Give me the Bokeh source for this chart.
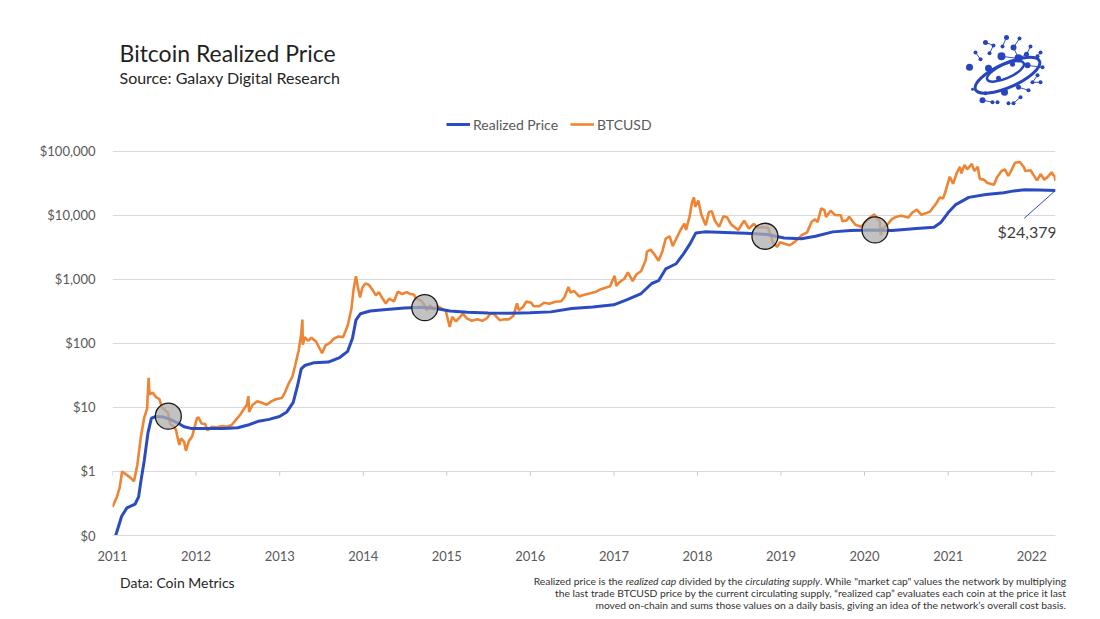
import html
import datetime as dt
import pandas as pd
from bokeh.plotting import figure
from bokeh.models import (Range1d, FixedTicker, NumeralTickFormatter, DatetimeTickFormatter,
                          Legend, LegendItem, Label, LinearScale, Div)
from bokeh.layouts import column
from bokeh.embed import file_html
from bokeh.resources import INLINE

# ---------------- data ----------------
btc_dates = [
    "2011-01-01", "2011-01-20", "2011-02-01", "2011-02-12", "2011-03-01", "2011-03-20", "2011-04-05",
    "2011-04-20", "2011-05-05", "2011-05-20", "2011-06-01", "2011-06-08", "2011-06-12", "2011-06-25",
    "2011-07-10", "2011-07-25", "2011-08-05", "2011-08-20", "2011-09-01", "2011-09-10", "2011-09-25",
    "2011-10-05", "2011-10-20", "2011-10-28", "2011-11-10", "2011-11-18", "2011-12-01", "2011-12-15",
    "2012-01-05", "2012-01-12", "2012-01-25", "2012-02-10", "2012-02-20", "2012-03-10", "2012-04-01",
    "2012-04-25", "2012-05-15", "2012-06-05", "2012-06-25", "2012-07-10", "2012-07-25", "2012-08-10",
    "2012-08-17", "2012-08-20", "2012-09-05", "2012-09-25", "2012-10-15", "2012-11-05", "2012-11-25",
    "2012-12-15", "2013-01-10", "2013-01-25", "2013-02-10", "2013-02-25", "2013-03-10", "2013-03-25",
    "2013-04-05", "2013-04-10", "2013-04-12", "2013-04-20", "2013-05-05", "2013-05-20", "2013-06-10",
    "2013-07-05", "2013-07-20", "2013-08-10", "2013-08-25", "2013-09-15", "2013-10-05", "2013-10-25",
    "2013-11-10", "2013-11-20", "2013-11-30", "2013-12-07", "2013-12-18", "2013-12-28", "2014-01-10",
    "2014-01-25", "2014-02-10", "2014-02-25", "2014-03-10", "2014-03-25", "2014-04-10", "2014-04-25",
    "2014-05-15", "2014-06-01", "2014-06-20", "2014-07-10", "2014-07-25", "2014-08-10", "2014-08-20",
    "2014-09-10", "2014-09-25", "2014-10-05", "2014-10-20", "2014-11-05", "2014-11-20", "2014-12-10",
    "2014-12-28", "2015-01-14", "2015-01-25", "2015-02-10", "2015-02-25", "2015-03-12", "2015-03-30",
    "2015-04-20", "2015-05-15", "2015-06-05", "2015-06-25", "2015-07-10", "2015-07-25", "2015-08-20",
    "2015-09-10", "2015-09-30", "2015-10-20", "2015-11-04", "2015-11-12", "2015-11-30", "2015-12-15",
    "2016-01-05", "2016-01-16", "2016-02-10", "2016-03-01", "2016-03-25", "2016-04-20", "2016-05-15",
    "2016-05-30", "2016-06-16", "2016-06-25", "2016-07-10", "2016-08-02", "2016-08-25", "2016-09-20",
    "2016-10-15", "2016-11-05", "2016-11-25", "2016-12-15", "2016-12-25", "2017-01-04", "2017-01-11",
    "2017-01-25", "2017-02-15", "2017-03-03", "2017-03-24", "2017-04-10", "2017-04-30", "2017-05-20",
    "2017-05-25", "2017-06-10", "2017-06-25", "2017-07-15", "2017-08-01", "2017-08-15", "2017-09-01",
    "2017-09-15", "2017-09-30", "2017-10-20", "2017-11-05", "2017-11-12", "2017-11-28", "2017-12-08",
    "2017-12-17", "2017-12-22", "2018-01-05", "2018-01-17", "2018-02-06", "2018-02-20", "2018-03-05",
    "2018-03-18", "2018-04-06", "2018-04-24", "2018-05-10", "2018-05-28", "2018-06-28", "2018-07-24",
    "2018-08-14", "2018-09-04", "2018-09-20", "2018-10-15", "2018-11-05", "2018-11-20", "2018-11-25",
    "2018-12-15", "2018-12-28", "2019-01-20", "2019-02-08", "2019-03-01", "2019-04-02", "2019-04-25",
    "2019-05-15", "2019-05-30", "2019-06-10", "2019-06-26", "2019-07-10", "2019-07-17", "2019-08-06",
    "2019-08-25", "2019-09-20", "2019-09-26", "2019-10-15", "2019-10-26", "2019-11-22", "2019-12-17",
    "2020-01-08", "2020-01-28", "2020-02-12", "2020-02-28", "2020-03-08", "2020-03-12", "2020-03-20",
    "2020-04-05", "2020-04-30", "2020-05-20", "2020-06-10", "2020-07-10", "2020-07-28", "2020-08-17",
    "2020-09-05", "2020-09-25", "2020-10-15", "2020-10-25", "2020-11-10", "2020-11-25", "2020-12-10",
    "2020-12-20", "2021-01-08", "2021-01-22", "2021-02-08", "2021-02-21", "2021-02-28", "2021-03-13",
    "2021-03-25", "2021-04-14", "2021-04-25", "2021-05-10", "2021-05-19", "2021-06-05", "2021-06-22",
    "2021-07-20", "2021-08-02", "2021-08-22", "2021-09-06", "2021-09-21", "2021-10-05", "2021-10-20",
    "2021-11-10", "2021-11-28", "2021-12-04", "2021-12-27", "2022-01-10", "2022-01-24", "2022-02-10",
    "2022-02-24", "2022-03-10", "2022-03-30", "2022-04-06", "2022-04-10", "2022-04-15",
]
btc_values = [
    0.28, 0.40, 0.55, 1.00, 0.90, 0.80, 0.70,
    1.3, 3.5, 7.0, 9.5, 29.0, 16.0, 17.0,
    14.5, 13.5, 10.0, 9.0, 8.2, 5.5, 5.0,
    4.5, 2.6, 3.3, 2.9, 2.1, 3.0, 3.5,
    6.8, 7.0, 5.6, 5.5, 4.4, 5.0, 4.9,
    5.1, 5.0, 5.3, 6.5, 7.5, 9.0, 11.0,
    15.0, 8.5, 11.0, 12.5, 11.8, 11.0, 12.4,
    13.4, 14.0, 17.5, 24.0, 30.0, 46.0, 78.0,
    140.0, 235.0, 95.0, 125.0, 110.0, 122.0, 105.0,
    70.0, 93.0, 103.0, 118.0, 128.0, 125.0, 190.0,
    340.0, 700.0, 1120.0, 800.0, 520.0, 740.0, 860.0,
    820.0, 690.0, 560.0, 630.0, 510.0, 420.0, 500.0,
    450.0, 640.0, 590.0, 630.0, 590.0, 580.0, 500.0,
    470.0, 400.0, 330.0, 390.0, 340.0, 380.0, 350.0,
    320.0, 180.0, 260.0, 220.0, 250.0, 290.0, 245.0,
    225.0, 238.0, 225.0, 245.0, 290.0, 290.0, 230.0,
    238.0, 237.0, 270.0, 420.0, 330.0, 370.0, 450.0,
    430.0, 380.0, 380.0, 430.0, 415.0, 445.0, 455.0,
    530.0, 760.0, 620.0, 660.0, 540.0, 575.0, 605.0,
    640.0, 700.0, 740.0, 780.0, 950.0, 1130.0, 790.0,
    900.0, 1020.0, 1280.0, 940.0, 1200.0, 1350.0, 2000.0,
    2700.0, 2900.0, 2500.0, 1950.0, 2750.0, 4300.0, 4700.0,
    3300.0, 4300.0, 6000.0, 7400.0, 5900.0, 9700.0, 16000.0,
    19000.0, 13500.0, 17000.0, 10500.0, 7000.0, 11200.0, 11500.0,
    8200.0, 6600.0, 9600.0, 9300.0, 7200.0, 5900.0, 8200.0,
    6200.0, 7300.0, 6400.0, 6500.0, 6400.0, 4700.0, 3800.0,
    3200.0, 3800.0, 3550.0, 3400.0, 3800.0, 4900.0, 5400.0,
    7900.0, 8600.0, 7800.0, 12800.0, 12000.0, 9400.0, 11800.0,
    10100.0, 10000.0, 8100.0, 8300.0, 9500.0, 7100.0, 6600.0,
    8000.0, 9400.0, 10300.0, 8700.0, 8000.0, 4900.0, 6200.0,
    6800.0, 8700.0, 9500.0, 9800.0, 9200.0, 11000.0, 12200.0,
    10200.0, 10700.0, 11500.0, 13000.0, 15300.0, 19000.0, 18300.0,
    23500.0, 40000.0, 31000.0, 46000.0, 57000.0, 45000.0, 61000.0,
    52000.0, 63500.0, 49000.0, 57000.0, 37000.0, 36000.0, 32000.0,
    30000.0, 39000.0, 49000.0, 52000.0, 41000.0, 51000.0, 66000.0,
    68000.0, 56000.0, 49000.0, 50500.0, 42000.0, 35000.0, 44000.0,
    36000.0, 39000.0, 47000.0, 41500.0, 42500.0, 34500.0,
]

rp_dates = [
    "2011-01-15", "2011-02-10", "2011-03-05", "2011-04-10", "2011-04-25", "2011-05-05", "2011-05-20",
    "2011-06-05", "2011-06-20", "2011-07-10", "2011-08-10", "2011-09-10", "2011-10-10", "2011-11-10",
    "2011-12-10", "2012-01-15", "2012-03-01", "2012-05-01", "2012-07-01", "2012-08-15", "2012-10-01",
    "2012-11-15", "2012-12-31", "2013-02-01", "2013-03-01", "2013-03-20", "2013-04-05", "2013-04-20",
    "2013-06-01", "2013-08-01", "2013-09-20", "2013-10-25", "2013-11-15", "2013-11-30", "2013-12-20",
    "2014-01-31", "2014-03-31", "2014-06-30", "2014-09-15", "2014-11-15", "2015-01-15", "2015-04-01",
    "2015-07-01", "2015-10-01", "2015-12-31", "2016-03-31", "2016-06-30", "2016-09-30", "2016-12-31",
    "2017-02-28", "2017-04-30", "2017-06-15", "2017-07-15", "2017-08-15", "2017-09-30", "2017-11-01",
    "2017-11-30", "2017-12-25", "2018-02-01", "2018-05-01", "2018-08-01", "2018-11-01", "2019-01-15",
    "2019-03-31", "2019-06-01", "2019-08-15", "2019-11-01", "2020-01-31", "2020-05-01", "2020-08-15",
    "2020-10-31", "2020-12-01", "2021-01-01", "2021-02-01", "2021-04-01", "2021-06-15", "2021-09-01",
    "2021-10-15", "2021-12-01", "2022-02-01", "2022-04-15",
]
rp_values = [
    0.10, 0.20, 0.27, 0.31, 0.40, 0.70, 1.5,
    4.0, 6.8, 7.2, 7.1, 6.5, 5.8, 5.0,
    4.7, 4.7, 4.7, 4.7, 4.8, 5.3, 6.1,
    6.5, 7.2, 8.5, 12.0, 22.0, 40.0, 45.0,
    50.0, 51.0, 60.0, 75.0, 120.0, 230.0, 290.0,
    320.0, 335.0, 355.0, 365.0, 350.0, 320.0, 305.0,
    298.0, 295.0, 300.0, 310.0, 350.0, 370.0, 400.0,
    480.0, 600.0, 860.0, 950.0, 1450.0, 1750.0, 2500.0,
    3600.0, 5300.0, 5500.0, 5400.0, 5250.0, 5000.0, 4400.0,
    4300.0, 4700.0, 5500.0, 5800.0, 5900.0, 5800.0, 6200.0,
    6500.0, 7800.0, 11000.0, 14500.0, 19000.0, 21000.0, 22500.0,
    24000.0, 25000.0, 24800.0, 24379.0,
]

cross_dates = ["2011-09-02", "2014-09-27", "2018-10-23", "2020-02-16"]
cross_values = [7.3, 360.0, 4700.0, 5900.0]

year_ticks = list(range(2011, 2023))
price_ticks = [0.1, 1, 10, 100, 1000, 10000, 100000]

title_text = "Bitcoin Realized Price"
subtitle_text = "Source: Galaxy Digital Research"
source_text = "Data: Coin Metrics"
note_line1 = [("Realized price is the ", "normal"), ("realized cap", "italic"),
              (" divided by the ", "normal"), ("circulating supply", "italic"),
              ('. While "market cap" values the network by multiplying', "normal")]
note_line2 = "the last trade BTCUSD price by the current circulating supply, \u201crealized cap\u201d evaluates each coin at the price it last"
note_line3 = "moved on-chain and sums those values on a daily basis, giving an idea of the network\u2019s overall cost basis."

# ---------------- styles / layout ----------------
BLUE = "#2B4CC0"
ORANGE = "#EE8535"
GRID = "#d9d9d9"
LABEL = "#595959"
FONT = "Lato"
W, H = 1096, 563
FOOT_H = 52
# frame in window pixels: left 112, right 1055, top 20, bottom 537
FL, FR, FT, FB = 112, 1055, 20, 537
PX_PER_DECADE = 64.3
y_top = 0.1 * 10 ** ((FB - FT) / PX_PER_DECADE)

btc_x = pd.to_datetime(btc_dates)
rp_x = pd.to_datetime(rp_dates)
cross_x = pd.to_datetime(cross_dates)
year_x = [pd.Timestamp(f"{y}-01-01") for y in year_ticks]
year_ms = [t.value / 1e6 for t in year_x]

p = figure(width=W, height=H, y_axis_type="log", x_axis_type="datetime",
           x_range=Range1d(pd.Timestamp("2011-01-01"), pd.Timestamp("2022-04-15")),
           y_range=Range1d(0.1, y_top), output_backend="svg", toolbar_location=None,
           min_border_left=FL, min_border_right=W - FR, min_border_top=FT,
           min_border_bottom=H - FB)
p.outline_line_color = None
p.background_fill_color = "white"
p.border_fill_color = "white"
# a pixel-like linear range for decorations and texts (window coordinates)
p.extra_x_ranges = {"px": Range1d(FL, FR)}
p.extra_y_ranges = {"px": Range1d(FB, FT)}
p.extra_x_scales = {"px": LinearScale()}
p.extra_y_scales = {"px": LinearScale()}

p.xgrid.visible = False
p.ygrid.grid_line_color = GRID
p.ygrid.ticker = FixedTicker(ticks=price_ticks)
p.ygrid.minor_grid_line_color = None

p.yaxis.ticker = FixedTicker(ticks=price_ticks)
p.yaxis.formatter = NumeralTickFormatter(format="$0,0")
p.yaxis.axis_line_color = None
p.yaxis.major_tick_line_color = None
p.yaxis.minor_tick_line_color = None
p.yaxis.major_label_standoff = 11

p.xaxis.ticker = FixedTicker(ticks=year_ms)
fmt = "%Y"
p.xaxis.formatter = DatetimeTickFormatter(microseconds=fmt, milliseconds=fmt, seconds=fmt, minsec=fmt,
                                          minutes=fmt, hourmin=fmt, hours=fmt, days=fmt, months=fmt,
                                          years=fmt)
p.xaxis.axis_line_color = GRID
p.xaxis.major_tick_line_color = None
p.xaxis.minor_tick_line_color = None
p.xaxis.major_label_standoff = 9
for ax in (p.xaxis[0], p.yaxis[0]):
    ax.major_label_text_font = FONT
    ax.major_label_text_font_size = "13px"
    ax.major_label_text_color = LABEL

# little tick marks where the category axis crosses $1
p.segment(x0=year_x, y0=[1] * len(year_x), x1=year_x, y1=[0.86] * len(year_x),
          line_color="#c8c8c8", line_width=1)

r_btc = p.line(btc_x, btc_values, line_color=ORANGE, line_width=2.6)
r_rp = p.line(rp_x, rp_values, line_color=BLUE, line_width=3)

p.scatter(cross_x, cross_values, size=26, fill_color="#adadad", fill_alpha=0.75,
          line_color="#1a1a1a", line_width=1.3)

# annotation for latest realized price
last_x, last_v = rp_x[-1], rp_values[-1]
lead_x = last_x - dt.timedelta(days=137)
lead_v = last_v / 10 ** (28 / PX_PER_DECADE)
p.line([last_x, lead_x], [last_v, lead_v], line_color=BLUE, line_width=1)
p.add_layout(Label(x=last_x, y=last_v, x_offset=-58, y_offset=-41, text=f"${last_v:,.0f}",
                   text_font=FONT, text_font_size="16px", text_color="#404040",
                   text_align="left", text_baseline="middle"))

legend = Legend(items=[LegendItem(label="Realized Price", renderers=[r_rp]),
                       LegendItem(label="BTCUSD", renderers=[r_btc])],
                orientation="horizontal", location=(334, 401), padding=2, margin=0,
                spacing=12, glyph_width=24, label_standoff=3,
                label_text_font=FONT, label_text_font_size="14px", label_text_color=LABEL,
                border_line_color=None, background_fill_alpha=0)
p.add_layout(legend)

# ---------------- logo (decorative, window coordinates) ----------------
logo_pts = [(985, 42), (993, 45), (1006, 37), (1019, 38), (1013, 47), (1002, 46), (1030, 46),
            (1026, 54), (1040, 52), (1037, 56), (975, 52), (989, 53), (1001, 56), (1018, 58),
            (980, 59), (969, 67), (988, 68), (1012, 64), (998, 78), (1027, 65), (1042, 67),
            (1037, 75), (1032, 82), (1040, 82), (972, 89), (985, 93), (1004, 92), (1018, 87),
            (1028, 90), (982, 100), (992, 102), (997, 102), (1020, 97), (1013, 103), (1008, 103)]
logo_sz = [5, 4, 5, 4, 6, 4, 4, 5, 4, 4, 4, 4, 8, 8, 4, 7, 7, 5, 5, 6, 4, 4, 4, 4, 3, 4, 7, 5, 4, 6, 4, 4, 4, 4, 4]
links = [(0, 1), (1, 11), (2, 5), (3, 4), (6, 7), (8, 9), (10, 14), (21, 22), (22, 23), (24, 25),
         (29, 30), (32, 33), (27, 28), (19, 20), (12, 13), (4, 13), (7, 13)]
deco = dict(x_range_name="px", y_range_name="px")
p.multi_line(xs=[[logo_pts[a][0], logo_pts[b][0]] for a, b in links],
             ys=[[logo_pts[a][1], logo_pts[b][1]] for a, b in links],
             line_color="#3556C8", line_width=1, **deco)
p.ellipse(x=[1007], y=[75], width=[70], height=[24], angle=[0.42], fill_color=None,
          line_color="#2746BE", line_width=3, **deco)
p.ellipse(x=[1005], y=[71], width=[40], height=[14], angle=[0.42], fill_color=None,
          line_color="#2746BE", line_width=2.5, **deco)
p.scatter(x=[q[0] for q in logo_pts], y=[q[1] for q in logo_pts], size=logo_sz,
          fill_color="#2746BE", line_color=None, **deco)

# ---------------- header texts (inside the frame, window coordinates) ----------------
for x, y, txt, size, col in ((119, 53, title_text, 23, "#1f1f1f"),
                             (119, 77, subtitle_text, 16, "#262626")):
    p.add_layout(Label(x=x, y=y, text=txt, text_font=FONT, text_font_size=f"{size}px",
                       text_color=col, text_align="left", text_baseline="middle", **deco))

# ---------------- footer (HTML below the chart) ----------------
def seg(s, st):
    s = html.escape(s, quote=False)
    return f"<i>{s}</i>" if st == "italic" else s


note_html = ("".join(seg(s, st) for s, st in note_line1) + "<br>" +
             html.escape(note_line2, quote=False) + "<br>" + html.escape(note_line3, quote=False))
footer_html = (
    f'<div style="position:relative;width:{W}px;height:{FOOT_H}px;font-family:Lato,sans-serif;">'
    f'<div style="position:absolute;left:120px;top:12px;font-size:14px;line-height:16px;'
    f'color:#262626;white-space:nowrap;">{html.escape(source_text)}</div>'
    f'<div style="position:absolute;right:{W - 1066}px;top:12px;font-size:10.3px;line-height:12px;'
    f'color:#333333;text-align:right;white-space:nowrap;">{note_html}</div>'
    '</div>'
)
footer = Div(text=footer_html, width=W, height=FOOT_H, margin=0)

layout = column(p, footer, spacing=0)
open("out.html", "w").write(file_html(layout, INLINE))
